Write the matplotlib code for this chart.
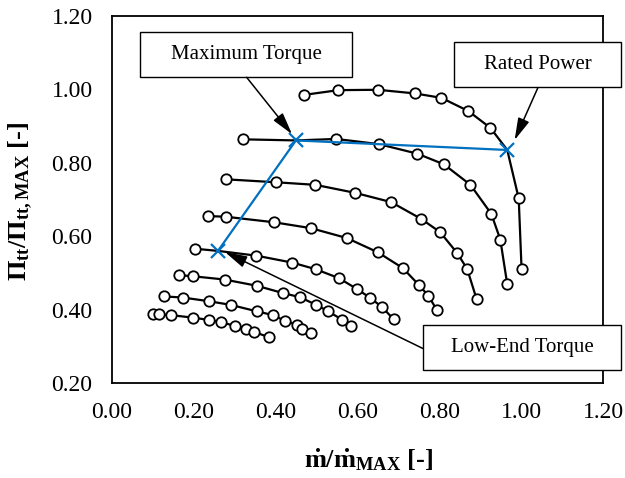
import matplotlib
matplotlib.use('Agg')
import matplotlib.pyplot as plt
from matplotlib.patches import Rectangle

plt.rcParams['font.family'] = ['Liberation Serif', 'DejaVu Serif']
plt.rcParams['mathtext.fontset'] = 'custom'
plt.rcParams['mathtext.rm'] = 'Liberation Serif'
plt.rcParams['mathtext.bf'] = 'Liberation Serif:bold'
plt.rcParams['mathtext.it'] = 'Liberation Serif:italic'

# Speed lines (mass flow ratio, pressure ratio)
s1_x = [0.469, 0.553, 0.650, 0.741, 0.805, 0.871, 0.925, 0.966, 0.994, 1.001]
s1_y = [0.985, 0.998, 0.999, 0.989, 0.977, 0.941, 0.895, 0.835, 0.703, 0.510]
s1_m = [True, True, True, True, True, True, True, False, True, True]
s2_x = [0.319, 0.4495, 0.548, 0.652, 0.746, 0.811, 0.876, 0.927, 0.949, 0.966]
s2_y = [0.864, 0.861, 0.865, 0.851, 0.825, 0.796, 0.740, 0.661, 0.591, 0.469]
s2_m = [True, False, True, True, True, True, True, True, True, True]
s3_x = [0.279, 0.401, 0.497, 0.595, 0.682, 0.756, 0.802, 0.843, 0.868, 0.891]
s3_y = [0.755, 0.747, 0.740, 0.718, 0.693, 0.647, 0.611, 0.555, 0.511, 0.429]
s4_x = [0.234, 0.279, 0.396, 0.486, 0.574, 0.650, 0.711, 0.751, 0.773, 0.794]
s4_y = [0.655, 0.653, 0.638, 0.622, 0.595, 0.556, 0.513, 0.466, 0.438, 0.399]
s5_x = [0.202, 0.259, 0.353, 0.441, 0.498, 0.554, 0.599, 0.631, 0.660, 0.688]
s5_y = [0.566, 0.560, 0.547, 0.528, 0.510, 0.486, 0.456, 0.432, 0.407, 0.374]
s5_m = [True, False, True, True, True, True, True, True, True, True]
s6_x = [0.163, 0.197, 0.275, 0.354, 0.418, 0.459, 0.499, 0.529, 0.563, 0.584]
s6_y = [0.494, 0.491, 0.482, 0.465, 0.445, 0.434, 0.413, 0.395, 0.372, 0.355]
s7_x = [0.126, 0.173, 0.236, 0.290, 0.355, 0.394, 0.423, 0.452, 0.465, 0.487]
s7_y = [0.436, 0.433, 0.423, 0.413, 0.395, 0.385, 0.369, 0.359, 0.348, 0.337]
s8_x = [0.100, 0.115, 0.144, 0.199, 0.236, 0.267, 0.301, 0.327, 0.348, 0.383]
s8_y = [0.387, 0.387, 0.385, 0.378, 0.372, 0.365, 0.356, 0.348, 0.339, 0.325]

# Operating line: Low-End Torque, Maximum Torque, Rated Power
op_x = [0.259, 0.4495, 0.966]
op_y = [0.560, 0.861, 0.835]
op_labels = ['Low-End Torque', 'Maximum Torque', 'Rated Power']

x_ticks = [0.0, 0.2, 0.4, 0.6, 0.8, 1.0, 1.2]
y_ticks = [0.2, 0.4, 0.6, 0.8, 1.0, 1.2]

fig = plt.figure(figsize=(6.25, 4.78), dpi=100)
ax = fig.add_axes([0.1792, 0.1987, 0.7856, 0.7678])

lines = [(s1_x, s1_y, s1_m), (s2_x, s2_y, s2_m), (s3_x, s3_y, None),
         (s4_x, s4_y, None), (s5_x, s5_y, s5_m), (s6_x, s6_y, None),
         (s7_x, s7_y, None), (s8_x, s8_y, None)]
for xs, ys, m in lines:
    ax.plot(xs, ys, color='black', lw=1.6, zorder=2)
    if m is None:
        mx, my = xs, ys
    else:
        mx = [x for x, k in zip(xs, m) if k]
        my = [y for y, k in zip(ys, m) if k]
    ax.plot(mx, my, ls='none', marker='o', ms=7.5, mfc='white', mec='black',
            mew=1.3, zorder=3)

ax.plot(op_x, op_y, color='#0070C0', lw=1.6, marker='x', ms=10, mew=1.6, zorder=4)

ax.set_xlim(0, 1.2)
ax.set_ylim(0.2, 1.2)
ax.set_xticks(x_ticks)
ax.set_yticks(y_ticks)
ax.set_xticklabels([f'{v:.2f}' for v in x_ticks])
ax.set_yticklabels([f'{v:.2f}' for v in y_ticks])
ax.tick_params(length=0, labelsize=17, pad=14)
for sp in ax.spines.values():
    sp.set_linewidth(1.3)

# annotation boxes (x0, x1, y0, y1) in data coordinates
boxes = {
    'Maximum Torque': ((0.068, 0.587, 1.034, 1.156), (0.329, 1.033), (0.440, 0.878)),
    'Rated Power': ((0.836, 1.244, 1.007, 1.129), (1.041, 1.005), (0.984, 0.862)),
    'Low-End Torque': ((0.760, 1.244, 0.235, 0.358), (0.760, 0.294), (0.276, 0.557)),
}
for label, ((x0, x1, y0, y1), start, end) in boxes.items():
    ax.add_patch(Rectangle((x0, y0), x1 - x0, y1 - y0, facecolor='white',
                           edgecolor='black', lw=1.0, clip_on=False, zorder=5))
    ax.text((x0 + x1) / 2, (y0 + y1) / 2, label, ha='center', va='center',
            fontsize=15, zorder=6, clip_on=False)
    ax.annotate('', xy=end, xytext=start, annotation_clip=False,
                arrowprops=dict(arrowstyle='-|>,head_length=0.9,head_width=0.24',
                                lw=1.1, color='black', shrinkA=0, shrinkB=0,
                                mutation_scale=15), zorder=5)

fig.text(0.034, 0.579, r'$\mathbf{\Pi_{tt}/\Pi_{tt,MAX}}$ [-]', rotation=90,
         ha='center', va='center', fontsize=19, fontweight='bold')
fig.text(0.589, 0.038, r'$\mathbf{\dot{m}/\dot{m}_{MAX}}$ [-]',
         ha='center', va='center', fontsize=19, fontweight='bold')

fig.savefig('out.png', dpi=100)
